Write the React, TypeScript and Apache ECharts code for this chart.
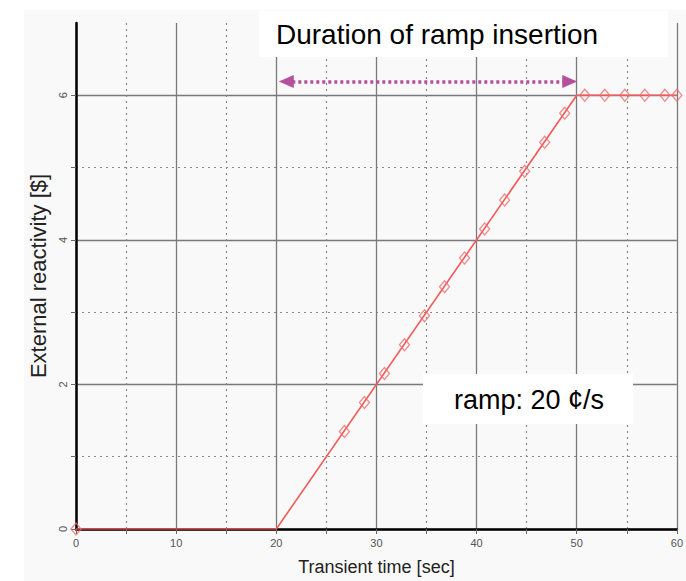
import React, { useEffect, useRef } from "react";
import * as echarts from "echarts";

// ---- data ----
const lineX = [0, 20, 50, 60];
const lineY = [0, 0, 6, 6];
const markerX = [0, 26.8, 28.8, 30.8, 32.8, 34.8, 36.8, 38.8, 40.8, 42.8, 44.8, 46.8, 48.8, 50.8, 52.8, 54.8, 56.8, 58.8, 60];
const markerY = [0, 1.35, 1.75, 2.15, 2.55, 2.95, 3.35, 3.75, 4.15, 4.55, 4.95, 5.35, 5.75, 6, 6, 6, 6, 6, 6];
const yMajorTicks = [0, 2, 4, 6];
const yMinorTicks = [1, 3, 5];
const arrowFrom = [21.0, 6.19];
const arrowTo = [49.3, 6.19];
const xTitle = "Transient time [sec]";
const yTitle = "External reactivity [$]";
const durationLabel = "Duration of ramp insertion";
const rampLabel = "ramp: 20 ¢/s";

const FONT = "Arial, 'Liberation Sans', sans-serif";

export default function App() {
  const ref = useRef<HTMLDivElement>(null);
  useEffect(() => {
    if (!ref.current) return;
    const chart = echarts.init(ref.current, null, { renderer: "svg" });
    const lineData = lineX.map((x, i) => [x, lineY[i]]);
    const markerData = markerX.map((x, i) => [x, markerY[i]]);
    chart.setOption({
      animation: false,
      backgroundColor: "#ffffff",
      textStyle: { fontFamily: FONT },
      grid: { left: 76, right: 5, top: 23, bottom: 50 },
      graphic: [
        { type: "rect", z: -10, silent: true, shape: { x: 24, y: 10, width: 662, height: 571 }, style: { fill: "#f9f9f9" } },
        { type: "rect", z: 100, silent: true, shape: { x: 259, y: 11, width: 409, height: 46 }, style: { fill: "#ffffff" } },
        { type: "text", z: 101, silent: true, x: 276, y: 34, style: { text: durationLabel, font: `28px ${FONT}`, fill: "#000", textVerticalAlign: "middle" } },
        { type: "rect", z: 100, silent: true, shape: { x: 423, y: 374, width: 210, height: 50 }, style: { fill: "#ffffff" } },
        { type: "text", z: 101, silent: true, x: 529, y: 400, style: { text: rampLabel, font: `27px ${FONT}`, fill: "#000", textAlign: "center", textVerticalAlign: "middle" } },
      ],
      xAxis: {
        type: "value",
        min: 0,
        max: 60,
        interval: 10,
        axisLine: { onZero: false, lineStyle: { color: "#000", width: 2.5 } },
        axisTick: { show: true, length: 5, lineStyle: { color: "#666" } },
        minorTick: { show: true, splitNumber: 2, length: 5, lineStyle: { color: "#666" } },
        splitLine: { show: true, lineStyle: { color: "#7a7a7a", width: 1.3 } },
        minorSplitLine: { show: true, lineStyle: { color: "#8a8a8a", type: [2, 4], width: 1.2 } },
        axisLabel: { fontSize: 11, color: "#555", margin: 8, fontFamily: FONT },
        name: xTitle,
        nameLocation: "middle",
        nameGap: 29,
        nameTextStyle: { fontSize: 18, color: "#222", fontFamily: FONT },
      },
      yAxis: [
        {
          type: "value",
          min: 0,
          max: 7,
          interval: 2,
          position: "left",
          axisLine: { show: true, onZero: false, lineStyle: { color: "#000", width: 2.5 } },
          axisTick: { show: true, length: 5, customValues: yMajorTicks, lineStyle: { color: "#666" } },
          axisLabel: { rotate: 90, fontSize: 11, color: "#555", margin: 8, customValues: yMajorTicks, fontFamily: FONT },
          splitLine: { show: true, showMinLine: true, showMaxLine: true, lineStyle: { color: "#7a7a7a", width: 1.3 } },
          name: yTitle,
          nameLocation: "middle",
          nameGap: 21,
          nameTextStyle: { fontSize: 22, color: "#222", fontFamily: FONT },
        },
        {
          type: "value",
          min: 0,
          max: 7,
          interval: 1,
          position: "left",
          offset: 0,
          axisLine: { show: false },
          axisTick: { show: true, length: 5, customValues: yMinorTicks, lineStyle: { color: "#666" } },
          axisLabel: { show: false },
          splitLine: { show: true, showMinLine: true, showMaxLine: true, lineStyle: { color: "#8a8a8a", type: [2, 4], width: 1.2 } },
        },
      ],
      series: [
        {
          type: "line",
          data: lineData,
          showSymbol: false,
          symbol: "none",
          lineStyle: { color: "#f25a5a", width: 1.6 },
          z: 5,
          markLine: {
            silent: true,
            symbol: ["triangle", "triangle"],
            symbolSize: [13, 15],
            label: { show: false },
            lineStyle: { color: "#b5509f", type: [3, 3], width: 3.5 },
            data: [[{ coord: arrowFrom }, { coord: arrowTo }]],
          },
        },
        {
          type: "scatter",
          data: markerData,
          symbol: "diamond",
          symbolSize: [10, 12],
          itemStyle: { color: "rgba(0,0,0,0)", borderColor: "#f26b6b", borderWidth: 1.3 },
          z: 6,
        },
      ],
    });
    return () => chart.dispose();
  }, []);
  return <div ref={ref} style={{ position: "fixed", left: 0, top: 0, width: 686, height: 581 }} />;
}
